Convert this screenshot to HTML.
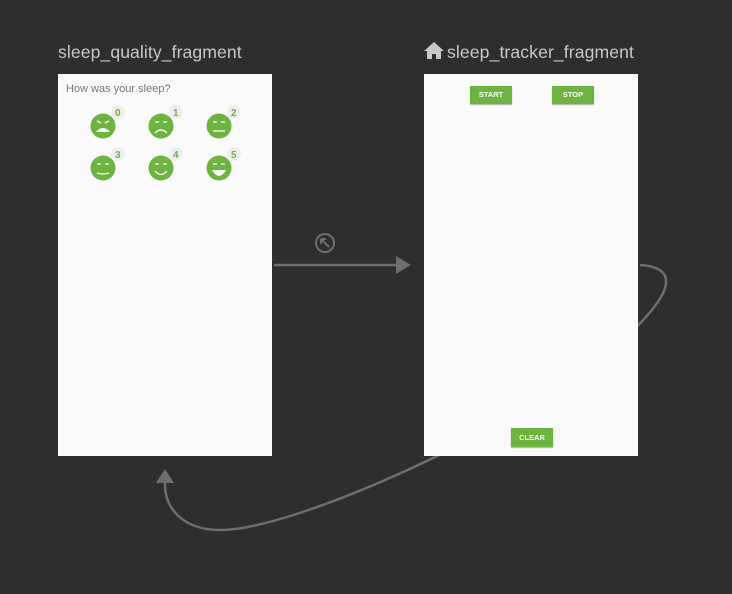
<!DOCTYPE html>
<html><head><style>
body{margin:0;width:732px;height:594px;background:#2d2e30;position:relative;overflow:hidden;font-family:"Liberation Sans",sans-serif}
.t{position:absolute;color:#c8c8c8;font-size:17.6px}
.p{position:absolute;background:#fafafa}
.b{position:absolute;background:#6db33f;color:#fff;font-size:7.5px;font-weight:bold;text-align:center;box-shadow:0 1px 1px #aaa}
</style></head><body>
<svg width="732" height="594" style="position:absolute;left:0;top:0">
<path d="M640,265 C685,268 672,300 600,360 S 300,530 220,530 C185,530 164,510 165,482" fill="none" stroke="#6e6e6e" stroke-width="2.5"/>
<polygon points="165,469 156,483 174,483" fill="#6e6e6e"/>
<line x1="274" y1="265" x2="398" y2="265" stroke="#6e6e6e" stroke-width="2.5"/>
<polygon points="411,265 396,256 396,274" fill="#6e6e6e"/>
<circle cx="325" cy="243" r="9" fill="none" stroke="#6e6e6e" stroke-width="2"/>
<path d="M322,240 L329,247 M321,239 L326,239 M321,239 L321,244" stroke="#6e6e6e" stroke-width="2" fill="none"/>
</svg>
<div class="t" style="left:58px;top:42px;letter-spacing:0.08px">sleep_quality_fragment</div>
<div class="t" style="left:447px;top:42px;letter-spacing:0.1px">sleep_tracker_fragment</div>
<svg width="20" height="18" style="position:absolute;left:424px;top:41px"><path d="M10,1 L20,10 L17,10 L17,18 L12,18 L12,13 L8,13 L8,18 L3,18 L3,10 L0,10 Z" fill="#c8c8c8"/></svg>
<div class="p" style="left:58px;top:74px;width:214px;height:382px">
<div style="position:absolute;left:8px;top:9px;font-size:11px;color:#777">How was your sleep?</div>
<svg width="214" height="120" style="position:absolute;left:0;top:0">
<g fill="#6db33f">
<circle cx="45" cy="52" r="12.5"/><circle cx="103" cy="52" r="12.5"/><circle cx="161" cy="52" r="12.5"/>
<circle cx="45" cy="94" r="12.5"/><circle cx="103" cy="94" r="12.5"/><circle cx="161" cy="94" r="12.5"/>
</g>
<g fill="#eee"><circle cx="60" cy="38" r="7"/><circle cx="118" cy="38" r="7"/><circle cx="176" cy="38" r="7"/><circle cx="60" cy="80" r="7"/><circle cx="118" cy="80" r="7"/><circle cx="176" cy="80" r="7"/></g>
<g fill="#6db33f" font-size="10" font-weight="bold" font-family="Liberation Sans"><text x="57" y="42">0</text><text x="115" y="42">1</text><text x="173" y="42">2</text><text x="57" y="84">3</text><text x="115" y="84">4</text><text x="173" y="84">5</text></g>
<g stroke="#fff" stroke-width="1.3" fill="none">
<path d="M39,47 l4,2 M51,47 l-4,2 M97,48 h4 M105,48 h4 M155,48 h4 M163,48 h4 M39,90 h4 M47,90 h4 M97,90 h4 M105,90 h4 M155,90 h4 M163,90 h4"/>
<path d="M97,59 Q103,53 109,59"/><path d="M155,57 h12"/><path d="M39,99 Q45,101 51,99"/><path d="M97,97 Q103,104 109,97"/>
</g>
<path d="M38,58 Q45,50 52,58 Z" fill="#fff"/><path d="M154,96 h14 Q161,108 154,96Z" fill="#fff"/>
</svg>
</div>
<div class="p" style="left:424px;top:74px;width:214px;height:382px">
<div class="b" style="left:46px;top:12px;width:42px;height:18px;line-height:18px">START</div>
<div class="b" style="left:128px;top:12px;width:42px;height:18px;line-height:18px">STOP</div>
<div class="b" style="left:87px;top:354px;width:42px;height:19px;line-height:19px">CLEAR</div>
</div>
</body></html>
